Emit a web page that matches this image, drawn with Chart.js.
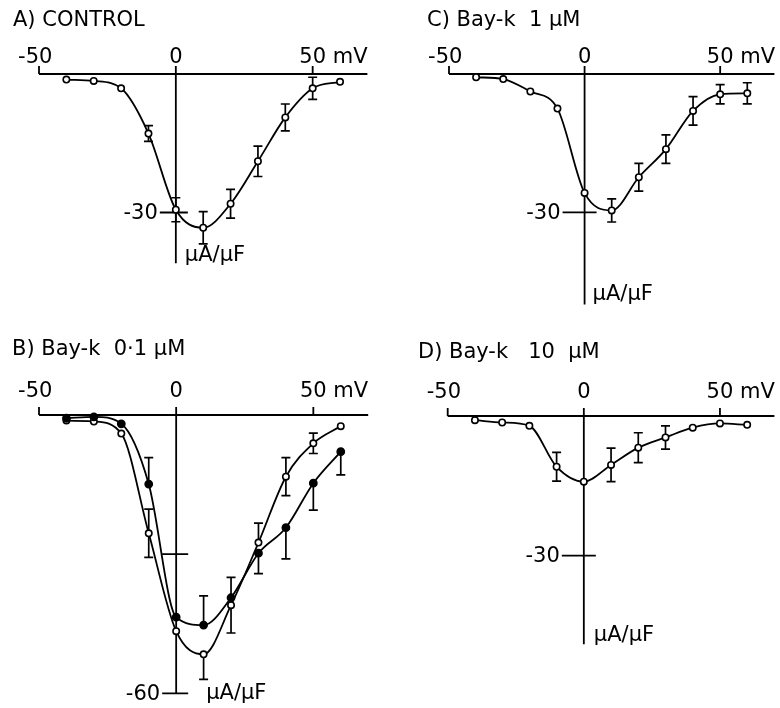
<!DOCTYPE html>
<html>
<head>
<meta charset="utf-8">
<title>Bay-k I-V curves</title>
<script src="https://cdn.jsdelivr.net/npm/chart.js@4.4.0/dist/chart.umd.min.js"></script>
<style>
  html, body { margin: 0; padding: 0; background: #fff; }
  #wrap { position: relative; width: 780px; height: 708px; }
  canvas { position: absolute; }
</style>
</head>
<body>
<div id="wrap">
  <canvas id="panelA" width="390" height="330" style="left:0;top:0"></canvas>
  <canvas id="panelC" width="390" height="330" style="left:390px;top:0"></canvas>
  <canvas id="panelB" width="390" height="378" style="left:0;top:330px"></canvas>
  <canvas id="panelD" width="390" height="378" style="left:390px;top:330px"></canvas>
</div>
<script>
// =====================
// Data
// =====================
const voltages = [-40, -30, -20, -10, 0, 10, 20, 30, 40, 50, 60];

const xTicks = [-50, 0, 50];
const xTickLabels = ["-50", "0", "50 mV"];
const yUnit = "µA/µF";

// A) control
const controlCurrent = [-1.2, -1.5, -3.1, -12.9, -29.4, -33.3, -28.1, -18.9, -9.4, -3.1, -1.7];
const controlSem = [0, 0, 0, 1.7, 2.6, 3.5, 3.1, 3.3, 2.9, 2.4, 0];
const controlYTicks = [-30];
const controlYTickLabels = ["-30"];

// B) Bay-k 0.1 uM, open and filled symbols
const lowOpenCurrent = [-1.2, -1.4, -4.0, -25.5, -46.6, -51.6, -41.0, -27.5, -13.3, -6.1, -2.4];
const lowOpenErrUp = [0, 0, 0, 5.2, 0, 0, 6.0, 4.2, 4.1, 2.2, 0];
const lowOpenErrDown = [0, 0, 0, 5.2, 0, 5.4, 6.0, 0, 4.1, 2.2, 0];
const lowFilledCurrent = [-0.7, -0.4, -1.9, -14.9, -43.6, -45.3, -39.4, -29.8, -24.3, -14.7, -7.9];
const lowFilledErrUp = [0, 0, 0, 5.7, 0, 6.3, 0, 0, 0, 0, 0];
const lowFilledErrDown = [0, 0, 0, 0, 0, 0, 0, 4.4, 6.7, 5.8, 5.0];
const lowYTicks = [-30, -60];
const lowYTickLabels = ["", "-60"];

// C) Bay-k 1 uM
const midCurrent = [-0.7, -1.1, -3.8, -7.5, -25.8, -29.6, -22.4, -16.3, -8.0, -4.4, -4.2];
const midSem = [0, 0, 0, 0, 0, 2.5, 3.0, 3.1, 3.1, 2.1, 2.3];
const midYTicks = [-30];
const midYTickLabels = ["-30"];

// D) Bay-k 10 uM
const highCurrent = [-0.9, -1.4, -2.1, -10.9, -14.1, -10.5, -6.8, -4.6, -2.5, -1.6, -1.9];
const highSem = [0, 0, 0, 3.1, 0, 3.6, 3.2, 2.5, 0, 0, 0];
const highYTicks = [-30];
const highYTickLabels = ["-30"];

// =====================
// Styling
// =====================
const FONT = '21px "DejaVu Sans"';
const INK = "#000";

function series(values, errUp, errDown, filled) {
    return {
        data: voltages.map((v, i) => ({ x: v, y: values[i] })),
        errUp: errUp,
        errDown: errDown,
        showLine: true,
        cubicInterpolationMode: "monotone",
        borderColor: INK,
        borderWidth: 1.8,
        pointRadius: filled ? 3.6 : 3.2,
        pointBorderWidth: 1.6,
        pointBorderColor: INK,
        pointBackgroundColor: filled ? INK : "#fff",
        clip: false
    };
}

// axes crossing at the origin, error bars and all labels
const crossAxesPlugin = {
    id: "crossAxes",
    beforeDatasetsDraw(chart) {
        const p = chart.options.plugins.crossAxes;
        const ctx = chart.ctx;
        const xs = chart.scales.x, ys = chart.scales.y;
        const area = chart.chartArea;
        const x0 = xs.getPixelForValue(0), y0 = ys.getPixelForValue(0);

        ctx.save();
        ctx.strokeStyle = INK;
        ctx.lineWidth = 1.8;
        ctx.beginPath();
        ctx.moveTo(area.left, y0);
        ctx.lineTo(area.right, y0);
        ctx.moveTo(x0, y0);
        ctx.lineTo(x0, ys.getPixelForValue(ys.min));
        xTicks.forEach(v => {
            const x = xs.getPixelForValue(v);
            ctx.moveTo(x, y0);
            ctx.lineTo(x, y0 - 8);
        });
        p.yTicks.forEach(v => {
            const y = ys.getPixelForValue(v);
            ctx.moveTo(x0 - p.tickLeft, y);
            ctx.lineTo(x0 + 12, y);
        });
        ctx.stroke();

        // error bars
        ctx.lineWidth = 1.7;
        chart.data.datasets.forEach(ds => {
            ds.data.forEach((pt, i) => {
                const up = ds.errUp[i], down = ds.errDown[i];
                if (!up && !down) return;
                const x = xs.getPixelForValue(pt.x);
                const yTop = ys.getPixelForValue(pt.y + up);
                const yBot = ys.getPixelForValue(pt.y - down);
                ctx.beginPath();
                ctx.moveTo(x, yTop);
                ctx.lineTo(x, yBot);
                if (up) { ctx.moveTo(x - 4.5, yTop); ctx.lineTo(x + 4.5, yTop); }
                if (down) { ctx.moveTo(x - 4.5, yBot); ctx.lineTo(x + 4.5, yBot); }
                ctx.stroke();
            });
        });
        ctx.restore();
    },
    afterDraw(chart) {
        const p = chart.options.plugins.crossAxes;
        const ctx = chart.ctx;
        const xs = chart.scales.x, ys = chart.scales.y;
        const x0 = xs.getPixelForValue(0), y0 = ys.getPixelForValue(0);

        ctx.save();
        ctx.font = FONT;
        ctx.fillStyle = INK;

        ctx.textAlign = "left";
        ctx.textBaseline = "middle";
        ctx.fillText(p.title, p.titleX, p.titleY);

        // x labels: the number sits centred on its tick
        ctx.textBaseline = "alphabetic";
        xTickLabels.forEach((lab, i) => {
            const x = xs.getPixelForValue(xTicks[i]);
            const num = lab.match(/\d+/)[0];
            const pre = lab.slice(0, lab.indexOf(num));
            const start = x - ctx.measureText(num).width / 2 - ctx.measureText(pre).width;
            ctx.fillText(lab, start, y0 - p.labelGap);
        });

        ctx.textAlign = "right";
        ctx.textBaseline = "middle";
        p.yTicks.forEach((v, i) => {
            if (!p.yTickLabels[i]) return;
            ctx.fillText(p.yTickLabels[i], x0 - p.tickLeft - 2, ys.getPixelForValue(v) + 1);
        });

        ctx.textAlign = "left";
        ctx.fillText(yUnit, x0 + p.unitDx, ys.getPixelForValue(ys.min) + p.unitDy);
        ctx.restore();
    }
};

// =====================
// Panels
// =====================
function makePanel(canvasId, cfg, datasets) {
    return new Chart(document.getElementById(canvasId), {
        type: "scatter",
        data: { datasets: datasets },
        options: {
            responsive: false,
            animation: false,
            events: [],
            layout: { padding: cfg.padding },
            scales: {
                x: { type: "linear", min: -50, max: 70, display: false },
                y: { type: "linear", min: cfg.yMin, max: 0, display: false }
            },
            plugins: {
                legend: { display: false },
                tooltip: { enabled: false },
                crossAxes: cfg
            }
        },
        plugins: [crossAxesPlugin]
    });
}

function initFigure() {
    makePanel("panelA", {
        title: "A) CONTROL", titleX: 13, titleY: 21,
        padding: { left: 39, right: 22.6, top: 74, bottom: 66.7 },
        yMin: -41, yTicks: controlYTicks, yTickLabels: controlYTickLabels,
        tickLeft: 16, labelGap: 11, unitDx: 9, unitDy: -8
    }, [series(controlCurrent, controlSem, controlSem, false)]);

    makePanel("panelC", {
        title: "C) Bay-k  1 µM", titleX: 37, titleY: 21,
        padding: { left: 59, right: 2.6, top: 74, bottom: 25.5 },
        yMin: -50, yTicks: midYTicks, yTickLabels: midYTickLabels,
        tickLeft: 22, labelGap: 11, unitDx: 8, unitDy: -10
    }, [series(midCurrent, midSem, midSem, false)]);

    makePanel("panelB", {
        title: "B) Bay-k  0·1 µM", titleX: 12, titleY: 20,
        padding: { left: 39, right: 21.8, top: 85, bottom: 14.7 },
        yMin: -60, yTicks: lowYTicks, yTickLabels: lowYTickLabels,
        tickLeft: 14, labelGap: 18, unitDx: 30, unitDy: 0
    }, [
        series(lowFilledCurrent, lowFilledErrUp, lowFilledErrDown, true),
        series(lowOpenCurrent, lowOpenErrUp, lowOpenErrDown, false)
    ]);

    makePanel("panelD", {
        title: "D) Bay-k   10  µM", titleX: 28, titleY: 23,
        padding: { left: 57.7, right: 3.5, top: 86, bottom: 63.8 },
        yMin: -49, yTicks: highYTicks, yTickLabels: highYTickLabels,
        tickLeft: 22, labelGap: 18, unitDx: 10, unitDy: -9
    }, [series(highCurrent, highSem, highSem, false)]);
}

document.addEventListener("DOMContentLoaded", initFigure);
</script>
</body>
</html>
